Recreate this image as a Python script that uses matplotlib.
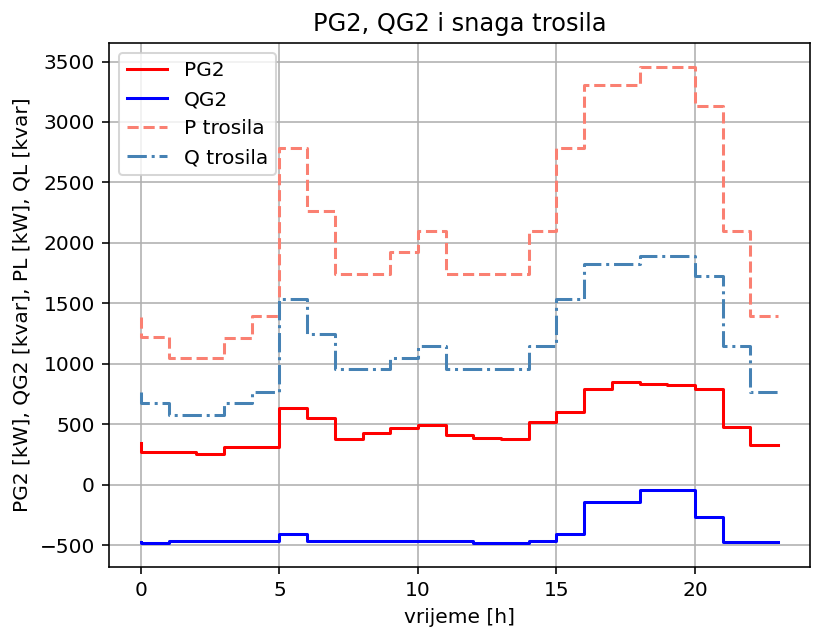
import numpy as np
import matplotlib
matplotlib.use('Agg')
import matplotlib.pyplot as plt

# hourly values (steps-pre: value y[i] held over (i-1, i])
hours = np.arange(24)

pg2 = [343, 266, 266, 255, 313, 313, 637, 552, 374, 426, 467, 495,
       409, 385, 374, 516, 599, 788, 849, 835, 824, 788, 478, 324]
qg2 = [-473, -481, -470, -470, -470, -470, -407, -470, -470, -470, -470, -470,
       -470, -484, -484, -470, -407, -140, -140, -44, -44, -264, -473, -473]
p_load = [1387, 1223, 1049, 1049, 1217, 1398, 2788, 2264, 1739, 1739, 1923, 2096,
          1739, 1739, 1739, 2096, 2788, 3310, 3310, 3456, 3456, 3132, 2096, 1396]
q_load = [769, 673, 577, 577, 673, 769, 1538, 1250, 956, 956, 1049, 1151,
          956, 956, 956, 1151, 1538, 1826, 1826, 1895, 1895, 1728, 1151, 769]

DPI = 145
fig = plt.figure(figsize=(817 / DPI, 633 / DPI), dpi=DPI)
ax = fig.add_axes([0.1334, 0.1043, 0.858, 0.8277])

ax.step(hours, pg2, color='red', label='PG2')
ax.step(hours, qg2, color='blue', label='QG2')
ax.step(hours, p_load, color='salmon', linestyle='--', label='P trosila')
ax.step(hours, q_load, color='steelblue', linestyle='-.', label='Q trosila')

ax.set_title('PG2, QG2 i snaga trosila')
ax.set_xlabel('vrijeme [h]')
ax.set_ylabel('PG2 [kW], QG2 [kvar], PL [kW], QL [kvar]')
ax.grid(True)
ax.legend(loc='upper left')

fig.savefig('out.png', dpi=DPI)
